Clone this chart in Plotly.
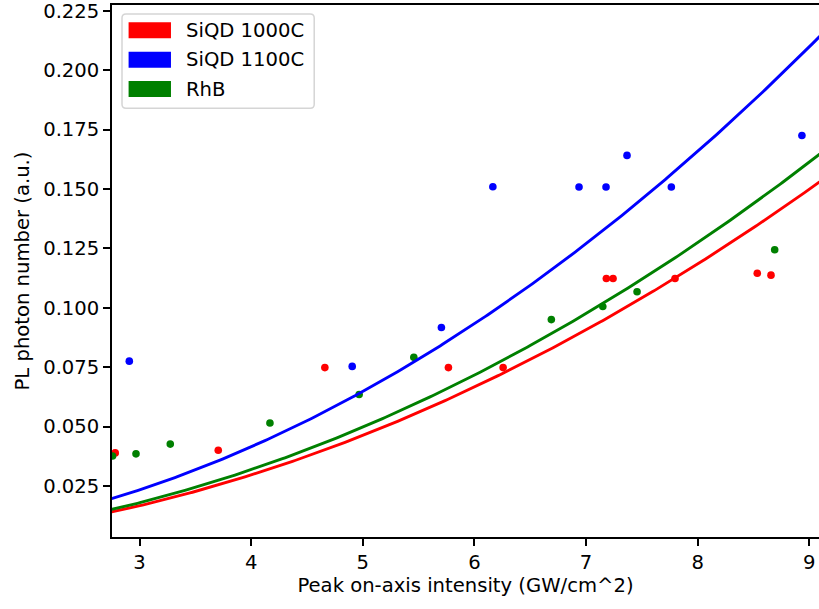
import numpy as np
import plotly.graph_objects as go

# ---- data ----
red_x = [2.782, 3.705, 4.660, 5.767, 6.257, 7.182, 7.242, 7.797, 8.534, 8.657]
red_y = [0.0389, 0.0400, 0.0748, 0.0748, 0.0748, 0.1123, 0.1123, 0.1123, 0.1145, 0.1137]

blue_x = [2.908, 4.905, 5.704, 6.165, 6.937, 7.179, 7.367, 7.764, 8.934]
blue_y = [0.0775, 0.0753, 0.0917, 0.1509, 0.1508, 0.1508, 0.1641, 0.1508, 0.1725]

green_x = [2.758, 2.968, 3.275, 4.168, 4.967, 5.457, 6.689, 7.150, 7.457, 8.690]
green_y = [0.0376, 0.0385, 0.0426, 0.0515, 0.0635, 0.0791, 0.0950, 0.1005, 0.1067, 0.1244]

# quadratic fit coefficients (y = a * x^2)
fit_a_red = 0.00185
fit_a_blue = 0.00259
fit_a_green = 0.00199

series_names = ["SiQD 1000C", "SiQD 1100C", "RhB"]
series_colors = ["#ff0000", "#0000ff", "#008000"]

x_ticks = [3, 4, 5, 6, 7, 8, 9]
y_ticks = [0.025, 0.050, 0.075, 0.100, 0.125, 0.150, 0.175, 0.200, 0.225]

# ---- layout geometry (pixels) ----
W, H = 819, 609
L, R, T, B = 111.7, 0, 5, 72.3
PW, PH = W - L - R, H - T - B


def px_x(p):
    return (p - L) / PW


def px_y(p):
    return (H - B - p) / PH


FONT = "DejaVu Sans"
FS = 19.6

fig = go.Figure()

xs = [red_x, blue_x, green_x]
ys = [red_y, blue_y, green_y]
coefs = [fit_a_red, fit_a_blue, fit_a_green]
xfit = np.linspace(2.6, 9.3, 300)
for sx, sy, c in zip(xs, ys, series_colors):
    fig.add_trace(go.Scatter(x=sx, y=sy, mode="markers",
                             marker=dict(color=c, size=7.6, line=dict(width=0)),
                             showlegend=False, hoverinfo="skip"))
for a, c in zip(coefs, series_colors):
    fig.add_trace(go.Scatter(x=xfit, y=a * xfit ** 2, mode="lines",
                             line=dict(color=c, width=2.9),
                             showlegend=False, hoverinfo="skip"))

# ---- manual matplotlib-style legend ----
bx0, bx1 = px_x(121.7), px_x(314)
by1, by0 = px_y(14), px_y(108.3)
rx, ry = 4 / PW, 4 / PH
path = (f"M{bx0+rx},{by1} L{bx1-rx},{by1} Q{bx1},{by1} {bx1},{by1-ry} "
        f"L{bx1},{by0+ry} Q{bx1},{by0} {bx1-rx},{by0} L{bx0+rx},{by0} "
        f"Q{bx0},{by0} {bx0},{by0+ry} L{bx0},{by1-ry} Q{bx0},{by1} {bx0+rx},{by1} Z")
shapes = [dict(type="path", xref="paper", yref="paper", path=path,
               fillcolor="rgba(255,255,255,0.8)", line=dict(color="#d5d5d5", width=1.5))]
annotations = []
row_top = [22.3, 51.7, 81.0]
for name, c, rt in zip(series_names, series_colors, row_top):
    shapes.append(dict(type="rect", xref="paper", yref="paper",
                       x0=px_x(128.3), x1=px_x(170.7), y0=px_y(rt + 16), y1=px_y(rt),
                       fillcolor=c, line=dict(width=0)))
    annotations.append(dict(xref="paper", yref="paper", x=px_x(184), y=px_y(rt + 8),
                            xanchor="left", yanchor="middle", text=name, showarrow=False,
                            font=dict(family=FONT, size=FS, color="black")))

fig.update_layout(
    width=W, height=H,
    margin=dict(l=L, r=R, t=T, b=B, pad=0),
    paper_bgcolor="white", plot_bgcolor="white",
    font=dict(family=FONT, size=FS, color="black"),
    shapes=shapes, annotations=annotations,
    showlegend=False,
    xaxis=dict(range=[2.753, 9.087], tickvals=x_ticks, ticktext=[str(v) for v in x_ticks],
               ticks="outside", ticklen=7, tickwidth=1.6, tickcolor="black",
               showline=True, linecolor="black", linewidth=1.6, mirror=True,
               showgrid=False, zeroline=False, ticklabeloverflow="allow",
               title=dict(text="Peak on-axis intensity (GW/cm^2)", standoff=4,
                          font=dict(family=FONT, size=FS))),
    yaxis=dict(range=[0.0035, 0.2274], tickvals=y_ticks,
               ticktext=[f"{v:.3f}" for v in y_ticks],
               ticks="outside", ticklen=7, tickwidth=1.6, tickcolor="black",
               showline=True, linecolor="black", linewidth=1.6, mirror=False,
               showgrid=False, zeroline=False, ticklabeloverflow="allow",
               title=dict(text="PL photon number (a.u.)", standoff=8,
                          font=dict(family=FONT, size=FS))),
)

fig.write_html("out.html")
